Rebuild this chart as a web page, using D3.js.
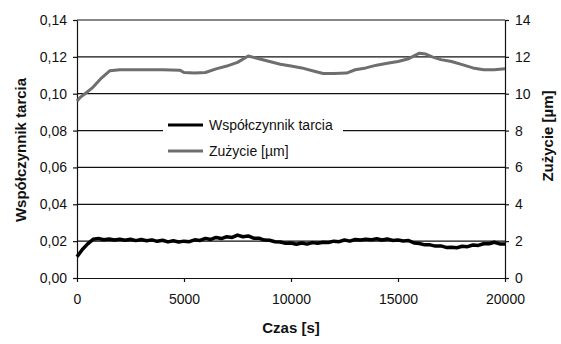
<!DOCTYPE html>
<html>
<head>
<meta charset="utf-8">
<script src="https://cdn.jsdelivr.net/npm/d3@7"></script>
<style>
  body { margin: 0; background: #fff; }
  svg { display: block; font-family: "Liberation Sans", Arial, sans-serif; }
</style>
</head>
<body>
<div id="chart"></div>
<script>
const frictionTime = d3.range(0, 20001, 250);
const frictionValue = [
  0.0115, 0.0155, 0.0185, 0.0210, 0.0214, 0.0208, 0.0212, 0.0206, 0.0211, 0.0205,
  0.0210, 0.0203, 0.0209, 0.0202, 0.0207, 0.0199, 0.0205, 0.0196, 0.0202, 0.0195,
  0.0200, 0.0197, 0.0207, 0.0204, 0.0215, 0.0209, 0.0220, 0.0214, 0.0224, 0.0220,
  0.0233, 0.0224, 0.0228, 0.0216, 0.0216, 0.0206, 0.0205, 0.0197, 0.0195, 0.0188,
  0.0190, 0.0183, 0.0190, 0.0184, 0.0192, 0.0189, 0.0194, 0.0193, 0.0200, 0.0197,
  0.0206, 0.0200, 0.0209, 0.0206, 0.0211, 0.0207, 0.0213, 0.0206, 0.0212, 0.0204,
  0.0206, 0.0201, 0.0203, 0.0190, 0.0187, 0.0180, 0.0180, 0.0173, 0.0174, 0.0166,
  0.0167, 0.0164, 0.0172, 0.0170, 0.0179, 0.0177, 0.0186, 0.0186, 0.0194, 0.0185,
  0.0185
];

// Wear [um], right axis.
const wearTime = [
  0, 150, 374, 700, 1100, 1540, 2000, 2500, 3000, 3500, 4000, 4800, 5000, 5500,
  6000, 6500, 7000, 7500, 8000, 8500, 9000, 9500, 10000, 10500, 11000, 11500,
  12000, 12600, 13000, 13500, 14000, 14500, 15000, 15500, 16000, 16300, 16600,
  17000, 17500, 18000, 18500, 19000, 19500, 20000
];
const wearValue = [
  9.6, 9.8, 10.0, 10.3, 10.8, 11.25, 11.3, 11.3, 11.3, 11.3, 11.3, 11.28, 11.15, 11.12,
  11.15, 11.35, 11.5, 11.7, 12.05, 11.9, 11.75, 11.6, 11.5, 11.4, 11.25, 11.1,
  11.1, 11.12, 11.3, 11.4, 11.55, 11.65, 11.75, 11.9, 12.2, 12.15, 12.0,
  11.85, 11.75, 11.58, 11.4, 11.3, 11.3, 11.35
];

const xTicks = [0, 5000, 10000, 15000, 20000];
const leftTicks = [0, 0.02, 0.04, 0.06, 0.08, 0.10, 0.12, 0.14];
const rightTicks = [0, 2, 4, 6, 8, 10, 12, 14];

const width = 561, height = 344;
const margin = { top: 20, right: 56, bottom: 66, left: 77 };

const svg = d3.select("#chart").append("svg")
  .attr("width", width)
  .attr("height", height);

const x = d3.scaleLinear().domain([0, 20000]).range([margin.left, width - margin.right]);
const yL = d3.scaleLinear().domain([0, 0.14]).range([height - margin.bottom, margin.top]);
const yR = d3.scaleLinear().domain([0, 14]).range([height - margin.bottom, margin.top]);

const comma = d3.formatLocale({ decimal: ",", thousands: "", grouping: [3], currency: ["", ""] });

// Gridlines.
svg.append("g")
  .selectAll("line")
  .data(leftTicks.slice(1))
  .join("line")
    .attr("x1", margin.left)
    .attr("x2", width - margin.right)
    .attr("y1", d => yL(d))
    .attr("y2", d => yL(d))
    .attr("stroke", "#111")
    .attr("stroke-width", 1.2);

// Axes.
const styleAxis = g => {
  g.selectAll(".domain").attr("stroke", "#111").attr("stroke-width", 1.2);
  g.selectAll(".tick line").attr("stroke", "#111").attr("stroke-width", 1.2);
  g.selectAll("text").attr("font-size", 14).attr("fill", "#111")
    .attr("font-family", "'Liberation Sans', Arial, sans-serif");
};

svg.append("g")
  .attr("transform", `translate(0,${height - margin.bottom})`)
  .call(d3.axisBottom(x).tickValues(xTicks).tickSize(4).tickSizeOuter(0).tickPadding(12).tickFormat(d3.format("d")))
  .call(styleAxis);

svg.append("g")
  .attr("transform", `translate(${margin.left},0)`)
  .call(d3.axisLeft(yL).tickValues(leftTicks).tickSize(4).tickSizeOuter(0).tickPadding(6).tickFormat(comma.format(".2f")))
  .call(styleAxis);

svg.append("g")
  .attr("transform", `translate(${width - margin.right},0)`)
  .call(d3.axisRight(yR).tickValues(rightTicks).tickSize(4).tickSizeOuter(0).tickPadding(6).tickFormat(d3.format("d")))
  .call(styleAxis);

// Wear line (gray).
const wearLine = d3.line()
  .x((d, i) => x(wearTime[i]))
  .y(d => yR(d));

svg.append("path")
  .datum(wearValue)
  .attr("fill", "none")
  .attr("stroke", "#6e6e6e")
  .attr("stroke-width", 3)
  .attr("stroke-linejoin", "round")
  .attr("d", wearLine);

// Friction line (black).
const frictionLine = d3.line()
  .x((d, i) => x(frictionTime[i]))
  .y(d => yL(d));

svg.append("path")
  .datum(frictionValue)
  .attr("fill", "none")
  .attr("stroke", "#000")
  .attr("stroke-width", 3.5)
  .attr("stroke-linejoin", "round")
  .attr("d", frictionLine);

// Legend.
const legend = svg.append("g");
legend.append("rect")
  .attr("x", 163).attr("y", 114)
  .attr("width", 180).attr("height", 46)
  .attr("fill", "#fff");

const legendItems = [
  { name: "Współczynnik tarcia", color: "#000", y: 125 },
  { name: "Zużycie [µm]", color: "#6e6e6e", y: 151 }
];

legend.selectAll("line")
  .data(legendItems)
  .join("line")
    .attr("x1", 168).attr("x2", 203)
    .attr("y1", d => d.y).attr("y2", d => d.y)
    .attr("stroke", d => d.color)
    .attr("stroke-width", 3);

legend.selectAll("text")
  .data(legendItems)
  .join("text")
    .attr("x", 209)
    .attr("y", d => d.y)
    .attr("dy", "0.35em")
    .attr("font-size", 14)
    .attr("fill", "#111")
    .text(d => d.name);

// Axis titles.
svg.append("text")
  .attr("transform", `translate(21,150) rotate(-90)`)
  .attr("text-anchor", "middle")
  .attr("dy", "0.35em")
  .attr("font-size", 15)
  .attr("font-weight", "bold")
  .attr("fill", "#111")
  .text("Współczynnik tarcia");

svg.append("text")
  .attr("transform", `translate(548,136) rotate(-90)`)
  .attr("text-anchor", "middle")
  .attr("dy", "0.35em")
  .attr("font-size", 15)
  .attr("font-weight", "bold")
  .attr("fill", "#111")
  .text("Zużycie [µm]");

svg.append("text")
  .attr("x", (margin.left + width - margin.right) / 2)
  .attr("y", 333)
  .attr("text-anchor", "middle")
  .attr("font-size", 15)
  .attr("font-weight", "bold")
  .attr("fill", "#111")
  .text("Czas [s]");
</script>
</body>
</html>
